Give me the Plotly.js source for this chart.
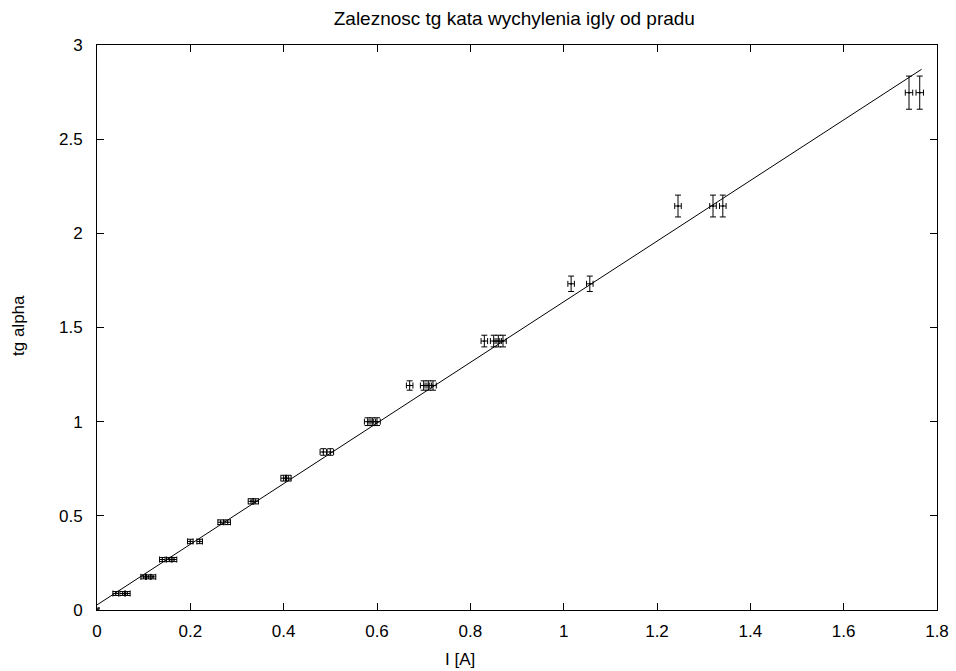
<!DOCTYPE html>
<html>
<head>
<meta charset="utf-8">
<script src="https://cdn.plot.ly/plotly-3.0.1.min.js"></script>
<style>html,body{margin:0;padding:0;background:#fff;}#chart{width:956px;height:671px;}</style>
</head>
<body>
<div id="chart"></div>
<script>
// Measured current I [A]
const currentI = [
  0,
  0.04, 0.055, 0.065,
  0.10, 0.11, 0.12,
  0.14, 0.155, 0.165,
  0.20, 0.22,
  0.265, 0.28,
  0.33, 0.34,
  0.40, 0.41,
  0.485, 0.50,
  0.58, 0.59, 0.60,
  0.67, 0.70, 0.71, 0.72,
  0.83, 0.85, 0.86, 0.87,
  1.016, 1.056,
  1.245, 1.32, 1.341,
  1.74, 1.763
];
// tg alpha
const tgAlpha = [
  0,
  0.0875, 0.0875, 0.0875,
  0.176, 0.176, 0.176,
  0.268, 0.268, 0.268,
  0.364, 0.364,
  0.466, 0.466,
  0.577, 0.577,
  0.700, 0.700,
  0.839, 0.839,
  1.0, 1.0, 1.0,
  1.192, 1.192, 1.192, 1.192,
  1.428, 1.428, 1.428, 1.428,
  1.732, 1.732,
  2.145, 2.145, 2.145,
  2.747, 2.747
];
// uncertainty of tg alpha
const tgErr = [
  0.010,
  0.0104, 0.0104, 0.0104,
  0.0106, 0.0106, 0.0106,
  0.011, 0.011, 0.011,
  0.0117, 0.0117,
  0.0125, 0.0125,
  0.0137, 0.0137,
  0.0153, 0.0153,
  0.0175, 0.0175,
  0.0206, 0.0206, 0.0206,
  0.0249, 0.0249, 0.0249, 0.0249,
  0.031, 0.031, 0.031, 0.031,
  0.041, 0.041,
  0.058, 0.058, 0.058,
  0.088, 0.088
];
// uncertainty of current
const iErr = [
  0.004,
  0.006, 0.006, 0.006,
  0.006, 0.006, 0.006,
  0.006, 0.006, 0.006,
  0.006, 0.006,
  0.006, 0.006,
  0.006, 0.006,
  0.006, 0.006,
  0.007, 0.007,
  0.007, 0.007, 0.007,
  0.007, 0.007, 0.007, 0.007,
  0.007, 0.007, 0.007, 0.007,
  0.007, 0.007,
  0.007, 0.007, 0.007,
  0.008, 0.008
];
// fitted line
const fitX = [0, 1.767];
const fitY = [0.027, 2.871];

const xTicks = [0, 0.2, 0.4, 0.6, 0.8, 1, 1.2, 1.4, 1.6, 1.8];
const xTickText = ['0', '0.2', '0.4', '0.6', '0.8', '1', '1.2', '1.4', '1.6', '1.8'];
const yTicks = [0, 0.5, 1, 1.5, 2, 2.5, 3];
const yTickText = ['0', '0.5', '1', '1.5', '2', '2.5', '3'];

const FAMILY = 'Liberation Sans, Arial, sans-serif';
const font = {family: FAMILY, size: 17, color: '#000'};

const traces = [
  {
    x: fitX, y: fitY, type: 'scatter', mode: 'lines',
    line: {color: '#000', width: 1}, hoverinfo: 'skip', showlegend: false
  },
  {
    x: currentI, y: tgAlpha, type: 'scatter', mode: 'markers',
    marker: {size: 2, color: '#000'},
    error_y: {type: 'data', array: tgErr, visible: true, color: '#000', thickness: 1, width: 3},
    error_x: {type: 'data', array: iErr, visible: true, color: '#000', thickness: 1, width: 3},
    cliponaxis: false, showlegend: false
  }
];

const layout = {
  width: 956, height: 671,
  margin: {l: 97, r: 19, t: 45, b: 61},
  paper_bgcolor: '#fff', plot_bgcolor: '#fff',
  font: font,
  title: {text: 'Zaleznosc tg kata wychylenia igly od pradu', font: {family: FAMILY, size: 19, color: '#000'},
          x: 0.538, xanchor: 'center', y: 0.973, yanchor: 'middle'},
  xaxis: {
    range: [0, 1.8], tickvals: xTicks, ticktext: xTickText,
    showgrid: false, zeroline: false, showline: true, mirror: 'ticks',
    linecolor: '#000', linewidth: 1, ticks: 'inside', ticklen: 7, tickcolor: '#000',
    tickfont: font, ticklabelstandoff: 6
  },
  yaxis: {
    range: [0, 3], tickvals: yTicks, ticktext: yTickText,
    showgrid: false, zeroline: false, showline: true, mirror: 'ticks',
    linecolor: '#000', linewidth: 1, ticks: 'inside', ticklen: 7, tickcolor: '#000',
    tickfont: font, ticklabelstandoff: 10
  },
  annotations: [
    {text: 'I [A]', xref: 'paper', yref: 'paper', x: (460 - 97) / 840, y: -(659 - 610) / 565,
     xanchor: 'center', yanchor: 'middle', showarrow: false, font: font},
    {text: 'tg alpha', xref: 'paper', yref: 'paper', x: (18 - 97) / 840, y: (610 - 326) / 565,
     xanchor: 'center', yanchor: 'middle', textangle: -90, showarrow: false, font: font}
  ]
};

Plotly.newPlot('chart', traces, layout, {displayModeBar: false, staticPlot: true});
</script>
</body>
</html>
